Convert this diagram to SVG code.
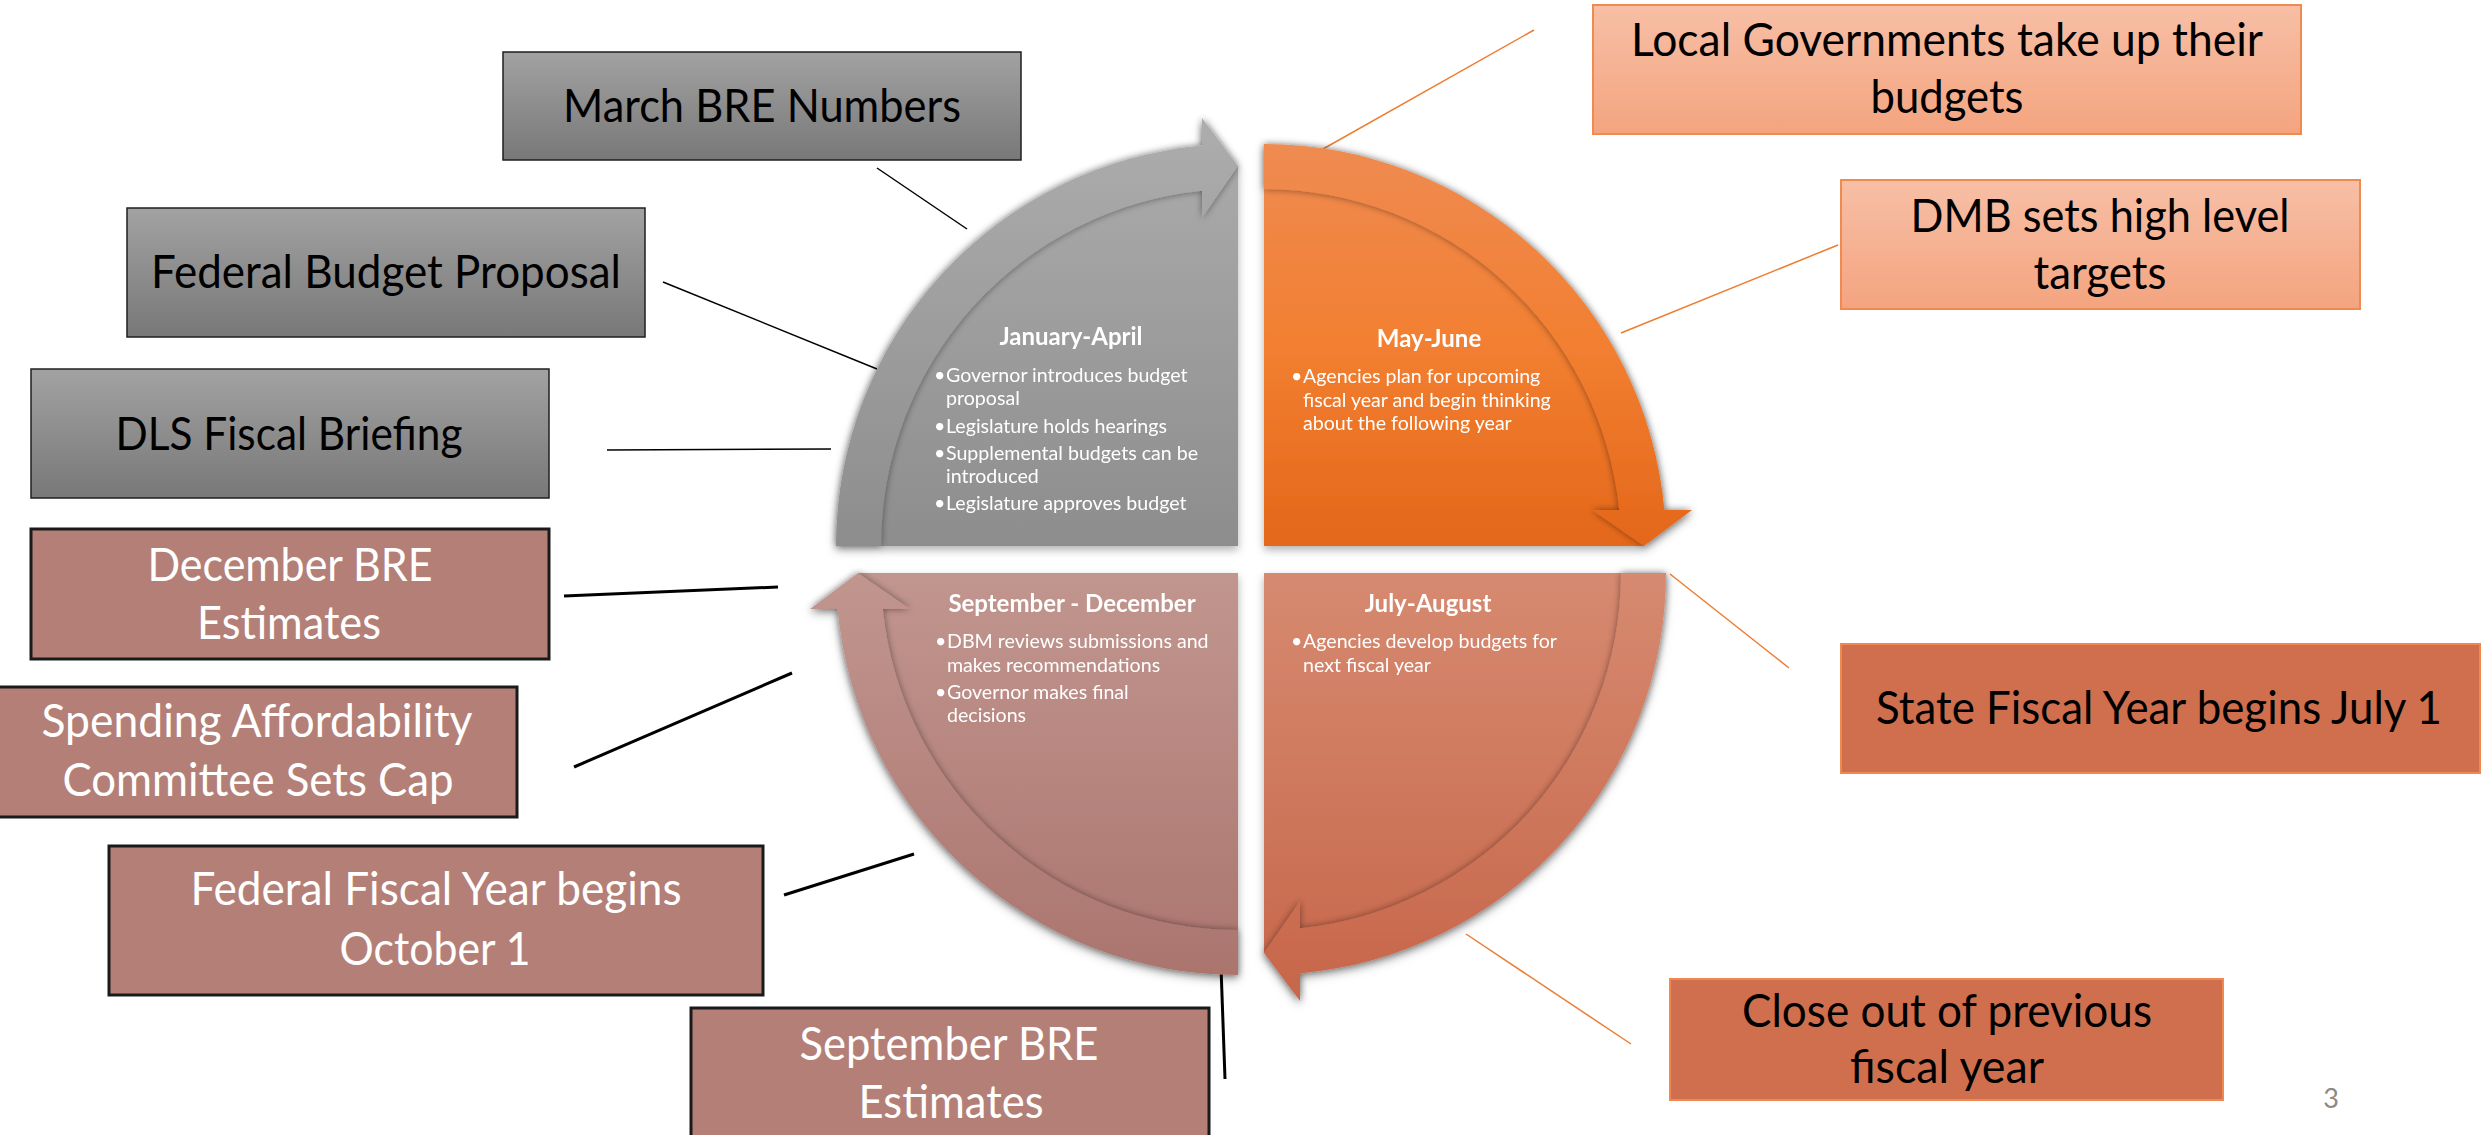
<svg xmlns="http://www.w3.org/2000/svg" width="2484" height="1135" viewBox="0 0 2484 1135">
<style>
  .lbl { font-family: Lato, "Liberation Sans", sans-serif; font-size: 46px; text-anchor: middle; }
  .dark { fill: #000; }
  .light { fill: #fff; }
  .qt { font-family: Lato, "Liberation Sans", sans-serif; font-size: 24px; font-weight: bold; fill: #fff; text-anchor: middle; }
  .qb { font-family: Lato, "Liberation Sans", sans-serif; font-size: 19.6px; fill: #fff; }
  .gbox { stroke: #1f1f1f; stroke-width: 1.5; fill: url(#gGray); }
  .bbox { stroke: #1a1a1a; stroke-width: 3; fill: #b47f77; }
  .obox { stroke: #f08a4e; stroke-width: 2; fill: url(#gSalmon); }
  .rbox { stroke: #f0884f; stroke-width: 2; fill: #cf6f4d; }
  .cthin { stroke: #000; stroke-width: 1.5; fill: none; }
  .cthick { stroke: #000; stroke-width: 3; fill: none; }
  .corange { stroke: #ed7d31; stroke-width: 1.5; fill: none; }
</style>
<defs>
  <linearGradient id="gGray" x1="0" y1="0" x2="0" y2="1">
    <stop offset="0" stop-color="#a2a2a2"/>
    <stop offset="1" stop-color="#787878"/>
  </linearGradient>
  <linearGradient id="gSalmon" x1="0" y1="0" x2="0" y2="1">
    <stop offset="0" stop-color="#f7bfa6"/>
    <stop offset="1" stop-color="#f4a47f"/>
  </linearGradient>
  <linearGradient id="qTL" gradientUnits="userSpaceOnUse" x1="0" y1="118" x2="0" y2="546">
    <stop offset="0" stop-color="#adadad"/>
    <stop offset="1" stop-color="#8d8d8d"/>
  </linearGradient>
  <linearGradient id="qTR" gradientUnits="userSpaceOnUse" x1="0" y1="144" x2="0" y2="546">
    <stop offset="0" stop-color="#ef8b52"/>
    <stop offset="0.5" stop-color="#f27f31"/>
    <stop offset="1" stop-color="#e4671a"/>
  </linearGradient>
  <linearGradient id="qBR" gradientUnits="userSpaceOnUse" x1="0" y1="573" x2="0" y2="1001">
    <stop offset="0" stop-color="#d68a70"/>
    <stop offset="1" stop-color="#c7664a"/>
  </linearGradient>
  <linearGradient id="qBL" gradientUnits="userSpaceOnUse" x1="0" y1="573" x2="0" y2="975">
    <stop offset="0" stop-color="#c1968f"/>
    <stop offset="1" stop-color="#ab756e"/>
  </linearGradient>
  <filter id="bandShadow" x="-10%" y="-10%" width="120%" height="120%">
    <feDropShadow dx="0" dy="0" stdDeviation="3.5" flood-color="#000" flood-opacity="0.45"/>
  </filter>
  <filter id="quadShadow" x="-10%" y="-10%" width="120%" height="120%">
    <feDropShadow dx="0" dy="4" stdDeviation="4" flood-color="#000" flood-opacity="0.3"/>
  </filter>
</defs>
<rect width="2484" height="1135" fill="#fff"/>

<g id="connectors">
  <line class="cthin" x1="877" y1="168" x2="967" y2="229"/>
  <line class="cthin" x1="663" y1="282" x2="877" y2="369"/>
  <line class="cthin" x1="607" y1="450" x2="831" y2="449"/>
  <line class="cthick" x1="564" y1="596" x2="778" y2="587"/>
  <line class="cthick" x1="574" y1="767" x2="792" y2="673"/>
  <line class="cthick" x1="784" y1="895" x2="914" y2="854"/>
  <line class="cthick" x1="1221" y1="967" x2="1225" y2="1079"/>
  <line class="corange" x1="1534" y1="30" x2="1323" y2="149"/>
  <line class="corange" x1="1838" y1="245" x2="1621" y2="333"/>
  <line class="corange" x1="1670" y1="574" x2="1789" y2="668"/>
  <line class="corange" x1="1466" y1="934" x2="1631" y2="1044"/>
</g>

<g id="q-jan-apr" filter="url(#quadShadow)">
  <path d="M1238 546 L858 546 A380 380 0 0 1 1238 166 Z" fill="url(#qTL)"/>
  <path d="M836 546 A402 402 0 0 1 1202 145.6 L1202 118 L1238 166 L1202 218 L1202 190.8 A357 357 0 0 0 881 546 Z" fill="url(#qTL)" filter="url(#bandShadow)"/>
  <text class="qt" x="1071" y="345">January-April</text>
  <text class="qb" x="934" y="382">•</text><text class="qb" x="946" y="382">Governor introduces budget</text>
  <text class="qb" x="946" y="405">proposal</text>
  <text class="qb" x="934" y="433">•</text><text class="qb" x="946" y="433">Legislature holds hearings</text>
  <text class="qb" x="934" y="460">•</text><text class="qb" x="946" y="460">Supplemental budgets can be</text>
  <text class="qb" x="946" y="483">introduced</text>
  <text class="qb" x="934" y="510">•</text><text class="qb" x="946" y="510">Legislature approves budget</text>
</g>

<g id="q-may-jun" filter="url(#quadShadow)">
  <path d="M1264 546 L1264 166 A380 380 0 0 1 1644 546 Z" fill="url(#qTR)"/>
  <path d="M1264 144 A402 402 0 0 1 1664.4 510 L1692 510 L1644 546 L1592 510 L1619.2 510 A357 357 0 0 0 1264 189 Z" fill="url(#qTR)" filter="url(#bandShadow)"/>
  <text class="qt" x="1429" y="347">May-June</text>
  <text class="qb" x="1291" y="383">•</text><text class="qb" x="1303" y="383">Agencies plan for upcoming</text>
  <text class="qb" x="1303" y="407">fiscal year and begin thinking</text>
  <text class="qb" x="1303" y="430">about the following year</text>
</g>

<g id="q-jul-aug" filter="url(#quadShadow)">
  <path d="M1264 573 L1644 573 A380 380 0 0 1 1264 953 Z" fill="url(#qBR)"/>
  <path d="M1666 573 A402 402 0 0 1 1300 973.4 L1300 1001 L1264 953 L1300 901 L1300 928.2 A357 357 0 0 0 1621 573 Z" fill="url(#qBR)" filter="url(#bandShadow)"/>
  <text class="qt" x="1428" y="612">July-August</text>
  <text class="qb" x="1291" y="648">•</text><text class="qb" x="1303" y="648">Agencies develop budgets for</text>
  <text class="qb" x="1303" y="672">next fiscal year</text>
</g>

<g id="q-sep-dec" filter="url(#quadShadow)">
  <path d="M1238 573 L1238 953 A380 380 0 0 1 858 573 Z" fill="url(#qBL)"/>
  <path d="M1238 975 A402 402 0 0 1 837.6 609 L810 609 L858 573 L910 609 L882.8 609 A357 357 0 0 0 1238 930 Z" fill="url(#qBL)" filter="url(#bandShadow)"/>
  <text class="qt" x="1072" y="612">September - December</text>
  <text class="qb" x="935" y="648">•</text><text class="qb" x="947" y="648">DBM reviews submissions and</text>
  <text class="qb" x="947" y="672">makes recommendations</text>
  <text class="qb" x="935" y="699">•</text><text class="qb" x="947" y="699">Governor makes final</text>
  <text class="qb" x="947" y="722">decisions</text>
</g>

<g id="n-march-bre">
  <rect class="gbox" x="503" y="52" width="518" height="108"/>
  <text class="lbl dark" x="762" y="122" textLength="398" lengthAdjust="spacingAndGlyphs">March BRE Numbers</text>
</g>
<g id="n-federal-budget">
  <rect class="gbox" x="127" y="208" width="518" height="129"/>
  <text class="lbl dark" x="386" y="288" textLength="470" lengthAdjust="spacingAndGlyphs">Federal Budget Proposal</text>
</g>
<g id="n-dls">
  <rect class="gbox" x="31" y="369" width="518" height="129"/>
  <text class="lbl dark" x="289" y="450" textLength="347" lengthAdjust="spacingAndGlyphs">DLS Fiscal Briefing</text>
</g>
<g id="n-december-bre">
  <rect class="bbox" x="31" y="529" width="518" height="130"/>
  <text class="lbl light" x="290" y="581" textLength="285" lengthAdjust="spacingAndGlyphs">December BRE</text>
  <text class="lbl light" x="289" y="639" textLength="184" lengthAdjust="spacingAndGlyphs">Estimates</text>
</g>
<g id="n-spending">
  <rect class="bbox" x="-2" y="687" width="519" height="130"/>
  <text class="lbl light" x="257" y="737" textLength="431" lengthAdjust="spacingAndGlyphs">Spending Affordability</text>
  <text class="lbl light" x="258" y="796" textLength="391" lengthAdjust="spacingAndGlyphs">Committee Sets Cap</text>
</g>
<g id="n-federal-fy">
  <rect class="bbox" x="109" y="846" width="654" height="149"/>
  <text class="lbl light" x="436" y="905" textLength="491" lengthAdjust="spacingAndGlyphs">Federal Fiscal Year begins</text>
  <text class="lbl light" x="435" y="965" textLength="191" lengthAdjust="spacingAndGlyphs">October 1</text>
</g>
<g id="n-september-bre">
  <rect class="bbox" x="691" y="1008" width="518" height="140"/>
  <text class="lbl light" x="949" y="1060" textLength="299" lengthAdjust="spacingAndGlyphs">September BRE</text>
  <text class="lbl light" x="951" y="1118" textLength="185" lengthAdjust="spacingAndGlyphs">Estimates</text>
</g>
<g id="n-local-gov">
  <rect class="obox" x="1593" y="5" width="708" height="129"/>
  <text class="lbl dark" x="1947" y="56" textLength="632" lengthAdjust="spacingAndGlyphs">Local Governments take up their</text>
  <text class="lbl dark" x="1947" y="113" textLength="153" lengthAdjust="spacingAndGlyphs">budgets</text>
</g>
<g id="n-dmb">
  <rect class="obox" x="1841" y="180" width="519" height="129"/>
  <text class="lbl dark" x="2100" y="232" textLength="379" lengthAdjust="spacingAndGlyphs">DMB sets high level</text>
  <text class="lbl dark" x="2100" y="289" textLength="133" lengthAdjust="spacingAndGlyphs">targets</text>
</g>
<g id="n-state-fy">
  <rect class="rbox" x="1841" y="644" width="639" height="129"/>
  <text class="lbl dark" x="2159" y="724" textLength="566" lengthAdjust="spacingAndGlyphs">State Fiscal Year begins July 1</text>
</g>
<g id="n-close-out">
  <rect class="rbox" x="1670" y="979" width="553" height="121"/>
  <text class="lbl dark" x="1947" y="1027" textLength="410" lengthAdjust="spacingAndGlyphs">Close out of previous</text>
  <text class="lbl dark" x="1947" y="1083" textLength="194" lengthAdjust="spacingAndGlyphs">fiscal year</text>
</g>
<text x="2331" y="1108" font-family="Lato, 'Liberation Sans', sans-serif" font-size="27" fill="#8a8a8a" text-anchor="middle">3</text>
</svg>
